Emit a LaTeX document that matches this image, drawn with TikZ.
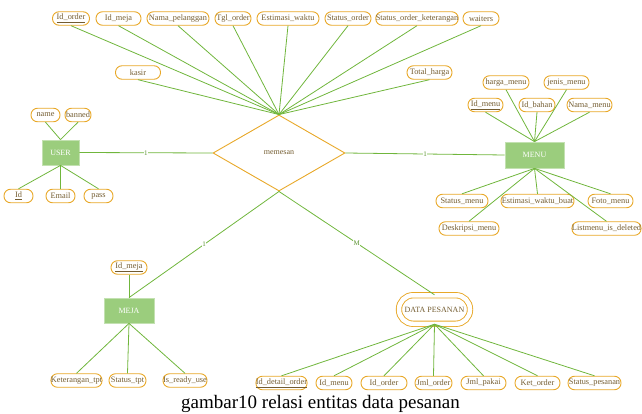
\documentclass[tikz,border=0pt]{standalone}
\usepackage{fontspec}
\setmainfont{Liberation Serif}
\usetikzlibrary{shapes.geometric}
\definecolor{attrborder}{RGB}{232,168,40}
\definecolor{attrtext}{RGB}{115,92,48}
\definecolor{lgreen}{RGB}{112,182,60}
\definecolor{entfill}{RGB}{155,205,125}
\tikzset{
  attr/.style={draw=attrborder, line width=0.9pt, rounded corners=6.5pt, minimum height=13.5pt, inner sep=0pt, text=attrtext, font=\fontsize{8.3}{9}\selectfont},
  entity/.style={fill=entfill, draw=entfill!60, line width=0.8pt, minimum width=#1, minimum height=25pt, inner sep=0pt, text=white, font=\fontsize{8}{9}\selectfont},
  rel/.style={draw=attrborder, line width=0.9pt, shape=diamond, aspect=1.737, minimum width=132pt, minimum height=76pt, inner sep=0pt, text=attrtext, font=\fontsize{8}{9}\selectfont},
  conn/.style={draw=lgreen, line width=0.8pt},
  card/.style={fill=white, text=lgreen!80!black, inner sep=0.6pt, font=\fontsize{7}{8}\selectfont}
}
\begin{document}
\begin{tikzpicture}[x=1pt,y=-1pt]
\useasboundingbox (0,0) rectangle (642,414);
% relationship
\node[rel] (mem) at (279,153) {memesan};
% top attributes
\node[attr, minimum width=37pt] (idorder) at (71,18.5) {\underline{Id\_order}};
\node[attr, minimum width=45pt] (idmeja) at (118.5,18.5) {Id\_meja};
\node[attr, minimum width=62pt] (nama) at (178,18.5) {Nama\_pelanggan};
\node[attr, minimum width=36pt] (tgl) at (233,18.5) {Tgl\_order};
\node[attr, minimum width=62pt] (estw) at (288,18.5) {Estimasi\_waktu};
\node[attr, minimum width=46pt] (stord) at (348,18.5) {Status\_order};
\node[attr, minimum width=80pt] (stket) at (417,18.5) {Status\_order\_keterangan};
\node[attr, minimum width=36pt] (waiters) at (481,18.5) {waiters};
\node[attr, minimum width=45pt] (kasir) at (138,72.5) {kasir};
\node[attr, minimum width=45pt] (total) at (429.5,72.5) {Total\_harga};
\foreach \a in {idorder,idmeja,nama,tgl,estw,stord,stket,waiters,kasir,total}
  \draw[conn] (\a.south) -- (mem.north);
% USER
\node[entity=37pt] (user) at (60.5,152.5) {USER};
\node[attr, minimum width=29pt] (uname) at (45.5,115) {name};
\node[attr, minimum width=26pt] (ubanned) at (78,115) {banned};
\node[attr, minimum width=29pt] (uid) at (18.5,196) {\underline{Id}};
\node[attr, minimum width=29pt] (uemail) at (60.5,196) {Email};
\node[attr, minimum width=29pt] (upass) at (98.5,196) {pass};
\draw[conn] (uname.south) -- (user.north);
\draw[conn] (ubanned.south) -- (user.north);
\draw[conn] (user.south) -- (uid.north);
\draw[conn] (user.south) -- (uemail.north);
\draw[conn] (user.south) -- (upass.north);
\draw[conn] (user.east) -- node[card, pos=0.5] {1} (mem.west);
% MENU
\node[entity=59pt, minimum height=26pt] (menu) at (534.5,155) {MENU};
\node[attr, minimum width=46pt] (harga) at (506,82.5) {harga\_menu};
\node[attr, minimum width=45pt] (jenis) at (566.5,82.5) {jenis\_menu};
\node[attr, minimum width=35pt] (idmenu) at (485.5,105) {\underline{Id\_menu}};
\node[attr, minimum width=36pt] (idbahan) at (537,105) {Id\_bahan};
\node[attr, minimum width=45pt] (namamenu) at (589.5,105) {Nama\_menu};
\node[attr, minimum width=52pt] (stmenu) at (462,201) {Status\_menu};
\node[attr, minimum width=73pt] (estbuat) at (537.5,201) {Estimasi\_waktu\_buat};
\node[attr, minimum width=45pt] (foto) at (610.5,201) {Foto\_menu};
\node[attr, minimum width=60pt] (desk) at (469,228.5) {Deskripsi\_menu};
\node[attr, minimum width=69pt] (listdel) at (606.5,228.5) {Listmenu\_is\_deleted};
\foreach \a in {harga,jenis,idmenu,idbahan,namamenu}
  \draw[conn] (\a.south) -- (menu.north);
\foreach \a in {stmenu,estbuat,foto,desk,listdel}
  \draw[conn] (menu.south) -- (\a.north);
\draw[conn] (mem.east) -- node[card, pos=0.5] {1} (menu.west);
% MEJA
\node[entity=50pt] (meja) at (129,310.5) {MEJA};
\node[attr, minimum width=36pt] (mid) at (129,267.5) {\underline{Id\_meja}};
\node[attr, minimum width=51pt] (mket) at (76.5,380.5) {Keterangan\_tpt};
\node[attr, minimum width=37pt] (mstat) at (127.5,380.5) {Status\_tpt};
\node[attr, minimum width=44pt] (mready) at (185,380.5) {Is\_ready\_use};
\draw[conn] (mid.south) -- (meja.north);
\foreach \a in {mket,mstat,mready}
  \draw[conn] (meja.south) -- (\a.north);
\draw[conn] (mem.south) -- node[card, pos=0.5] {1} (meja.north);
% DATA PESANAN
\node[draw=attrborder, line width=0.9pt, double, double distance=4.5pt, rounded corners=14pt, minimum width=71pt, minimum height=28.5pt, inner sep=0pt, text=attrtext, font=\fontsize{8}{9}\selectfont] (dp) at (434.5,309.5) {DATA PESANAN};
\node[attr, minimum width=51pt] (ddet) at (281.5,383) {\underline{Id\_detail\_order}};
\node[attr, minimum width=36pt] (dmenu) at (334,383) {Id\_menu};
\node[attr, minimum width=46pt] (dord) at (384,383) {Id\_order};
\node[attr, minimum width=37pt] (djml) at (433.5,383) {Jml\_order};
\node[attr, minimum width=45pt] (dpakai) at (483.5,383) {Jml\_pakai};
\node[attr, minimum width=45pt] (dket) at (537.5,383) {Ket\_order};
\node[attr, minimum width=53pt] (dstat) at (594.5,383) {Status\_pesanan};
\foreach \a in {ddet,dmenu,dord,djml,dpakai,dket,dstat}
  \draw[conn] (dp.south) -- (\a.north);
\draw[conn] (mem.south) -- node[card, pos=0.5] {M} (dp.north);
% caption
\node[font=\fontsize{19}{21}\selectfont, inner sep=0pt] (cap) at (320.5,403.5) {gambar10 relasi entitas data pesanan};
\end{tikzpicture}
\end{document}
